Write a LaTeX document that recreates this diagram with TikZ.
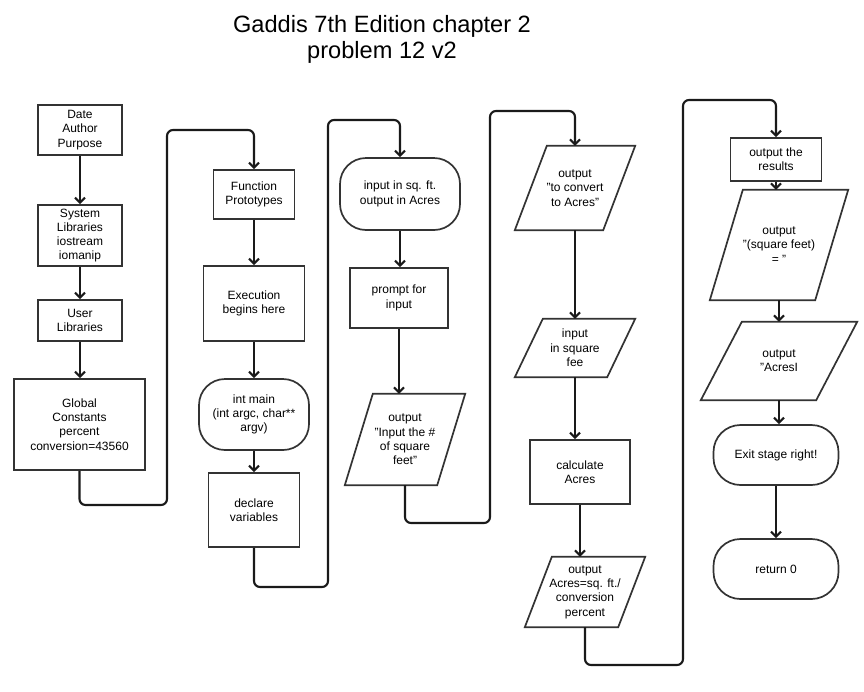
\documentclass[tikz,border=0pt]{standalone}
\usepackage{fontspec}
\setmainfont{Liberation Sans}
\usetikzlibrary{arrows.meta,calc}

\definecolor{edgec}{HTML}{333333}
\definecolor{flowc}{HTML}{1A1A1A}

\newcommand\boxfont{\fontsize{12}{14.3}\selectfont}
\newcommand\titlefont{\fontsize{23.6}{27}\selectfont}
% straight double quote
\newcommand\dq{\symbol{34}}

% io box: name, x, y, total width, height, slant, text
\newcommand\iobox[7]{%
  \node[iotext, minimum width=#4pt-#6pt, minimum height=#5pt] (#1) at (#2,#3) {#7};
  \draw[boxline] ([xshift=-#6pt/2]#1.south west) -- ([xshift=-#6pt/2]#1.south east)
    -- ([xshift=#6pt/2]#1.north east) -- ([xshift=#6pt/2]#1.north west) -- cycle;
}

\begin{document}
\begin{tikzpicture}[x=1pt,y=-1pt,
  boxline/.style={draw=edgec, line width=1.7pt, line join=miter},
  procbox/.style={boxline, rectangle, align=center, font=\boxfont, inner sep=0pt},
  termbox/.style={procbox, rounded corners=#1},
  iotext/.style={rectangle, align=center, font=\boxfont, inner sep=0pt},
  flow/.style={draw=flowc, line width=2.1pt, -{Straight Barb[length=5pt,width=10pt]}},
  loop/.style={flow, rounded corners=6pt},
  titletext/.style={font=\titlefont, anchor=base, inner sep=0pt}
]
\useasboundingbox[fill=white] (0,0) rectangle (864,691);

% title
\node[titletext] (title1) at (382,32) {Gaddis 7th Edition chapter 2};
\node[titletext] (title2) at (382,58) {problem 12 v2};

% column 1
\node[procbox, minimum width=84pt, minimum height=50pt] (date) at (80,130) {Date\\Author\\Purpose};
\node[procbox, minimum width=84pt, minimum height=61pt] (syslib) at (80,235.5) {System\\Libraries\\iostream\\iomanip};
\node[procbox, minimum width=84pt, minimum height=41pt] (userlib) at (80,320.5) {User\\Libraries};
\node[procbox, minimum width=131pt, minimum height=91pt] (glob) at (79.5,424.5) {Global\\Constants\\percent\\conversion=43560};

% column 2
\node[procbox, minimum width=81pt, minimum height=49pt] (fproto) at (254,194.5) {Function\\Prototypes};
\node[procbox, minimum width=101pt, minimum height=75pt] (exec) at (254,303.5) {Execution\\begins here};
\node[termbox=26pt, minimum width=110pt, minimum height=71pt] (imain) at (254,414.5) {int main\\(int argc, char**\\argv)};
\node[procbox, minimum width=91pt, minimum height=74pt] (decl) at (254,510) {declare\\variables};

% column 3
\node[termbox=26pt, minimum width=120pt, minimum height=72pt] (units) at (400,194) {input in sq. ft.\\output in Acres};
\node[procbox, minimum width=98pt, minimum height=60pt] (prompt) at (399,298) {prompt for\\input};
\iobox{askin}{405}{439.5}{120}{91}{28}{output\\\dq Input the \#\\of square\\feet\dq}

% column 4
\iobox{conv}{575}{188}{120}{84}{32}{output\\\dq to convert\\to Acres\dq}
\iobox{readin}{575}{348}{120}{58}{28}{input\\in square\\fee}
\node[procbox, minimum width=100pt, minimum height=64pt] (calc) at (580,472) {calculate\\Acres};
\iobox{acres}{585}{592}{120}{70}{27}{output\\Acres=sq. ft./\\conversion\\percent}

% column 5
\node[procbox, minimum width=91pt, minimum height=43pt] (results) at (776,159.5) {output the\\results};
\iobox{sqft}{779}{245}{138}{110}{33}{output\\\dq(square feet)\\= \dq}
\iobox{acresout}{779}{361}{156}{78}{41}{output\\\dq AcresI}
\node[termbox=27pt, minimum width=125pt, minimum height=60pt] (exitn) at (776,455) {Exit stage right!};
\node[termbox=27pt, minimum width=125pt, minimum height=60pt] (ret) at (776,569) {return 0};

% bends of the column-to-column connectors
\coordinate (b1) at (167,505);
\coordinate (t1) at (167,130);
\coordinate (b2) at (328,587);
\coordinate (t2) at (328,120);
\coordinate (b3) at (490,523);
\coordinate (t3) at (490,111);
\coordinate (b4) at (683,665);
\coordinate (t4) at (683,100);

% straight connectors
\draw[flow] (date) -- (syslib);
\draw[flow] (syslib) -- (userlib);
\draw[flow] (userlib.south) -- (userlib.south |- glob.north);
\draw[flow] (fproto) -- (exec);
\draw[flow] (exec) -- (imain);
\draw[flow] (imain) -- (decl);
\draw[flow] (units.south) -- (units.south |- prompt.north);
\draw[flow] (prompt.south) -- (prompt.south |- askin.north);
\draw[flow] (conv) -- (readin);
\draw[flow] (readin.south) -- (readin.south |- calc.north);
\draw[flow] (calc.south) -- (calc.south |- acres.north);
\draw[flow] (results.south) -- (results.south |- sqft.north);
\draw[flow] (sqft.south) -- (sqft.south |- acresout.north);
\draw[flow] (acresout.south) -- (acresout.south |- exitn.north);
\draw[flow] (exitn) -- (ret);

% connectors between columns
\draw[loop] (glob.south) |- (b1) -- (t1) -| (fproto.north);
\draw[loop] (decl.south) |- (b2) -- (t2) -| (units.north);
\draw[loop] (askin.south) |- (b3) -- (t3) -| (conv.north);
\draw[loop] (acres.south) |- (b4) -- (t4) -| (results.north);
\end{tikzpicture}
\end{document}
